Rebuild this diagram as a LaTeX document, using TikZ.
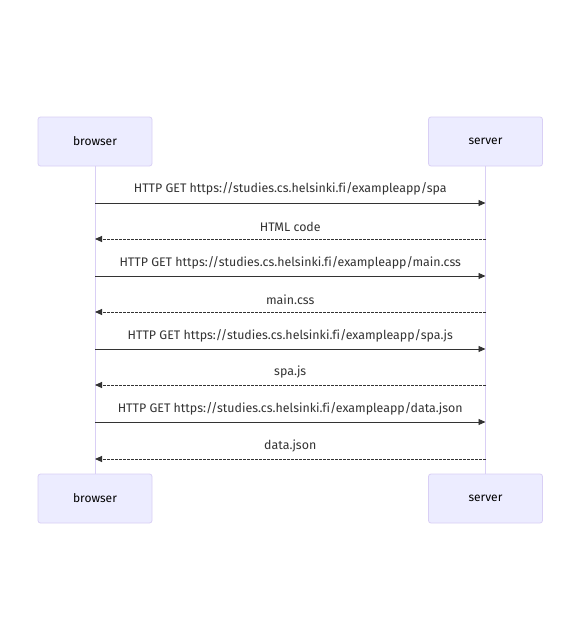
\documentclass[tikz,border=0pt]{standalone}
\usepackage{fontspec}
\setmainfont[Ligatures=NoCommon]{Fira Sans}
\usetikzlibrary{arrows.meta}
\definecolor{actfill}{HTML}{ECECFF}
\definecolor{actline}{HTML}{D9CFF5}
\definecolor{msgcol}{HTML}{333333}
\tikzset{
  actor/.style={draw=actline, fill=actfill, rounded corners=2.5pt, minimum width=114pt, minimum height=49pt, inner sep=0pt, font=\fontsize{12}{14}\selectfont, text=black, line width=0.8pt},
  life/.style={draw=actline, line width=1pt},
  req/.style={draw=msgcol, line width=0.9pt, -{Triangle[length=7pt,width=6pt]}},
  resp/.style={draw=msgcol, line width=0.9pt, dash pattern=on 2.5pt off 1.5pt, -{Triangle[length=7pt,width=6pt]}},
  lbl/.style={font=\fontsize{12.4}{14}\selectfont, text=msgcol, inner sep=0pt}
}
\begin{document}
\begin{tikzpicture}[x=1pt,y=-1pt]
\useasboundingbox[fill=white] (0,0) rectangle (581,642);
\node[actor] (bt) at (95,141.5) {browser};
\node[actor] (st) at (485.5,141.5) {server};
\node[actor] (bb) at (95,498.5) {browser};
\node[actor] (sb) at (485.5,498.5) {server};
\draw[life] (bt.south) -- (bb.north);
\draw[life] (st.south) -- (sb.north);
\foreach \i/\y in {1/203,2/239,3/276,4/312,5/349,6/385,7/422,8/459}{
  \coordinate (b\i) at (95,\y);
  \coordinate (s\i) at (485.5,\y);
}
\draw[req] (b1) -- (s1) node[lbl, midway, above=7.5pt] {HTTP GET https://studies.cs.helsinki.fi/exampleapp/spa};
\draw[resp] (s2) -- (b2) node[lbl, midway, above=6.5pt] {HTML code};
\draw[req] (b3) -- (s3) node[lbl, midway, above=6.5pt] {HTTP GET https://studies.cs.helsinki.fi/exampleapp/main.css};
\draw[resp] (s4) -- (b4) node[lbl, midway, above=6.5pt] {main.css};
\draw[req] (b5) -- (s5) node[lbl, midway, above=6.5pt] {HTTP GET https://studies.cs.helsinki.fi/exampleapp/spa.js};
\draw[resp] (s6) -- (b6) node[lbl, midway, above=6.5pt] {spa.js};
\draw[req] (b7) -- (s7) node[lbl, midway, above=6.5pt] {HTTP GET https://studies.cs.helsinki.fi/exampleapp/data.json};
\draw[resp] (s8) -- (b8) node[lbl, midway, above=6.5pt] {data.json};
\end{tikzpicture}
\end{document}
